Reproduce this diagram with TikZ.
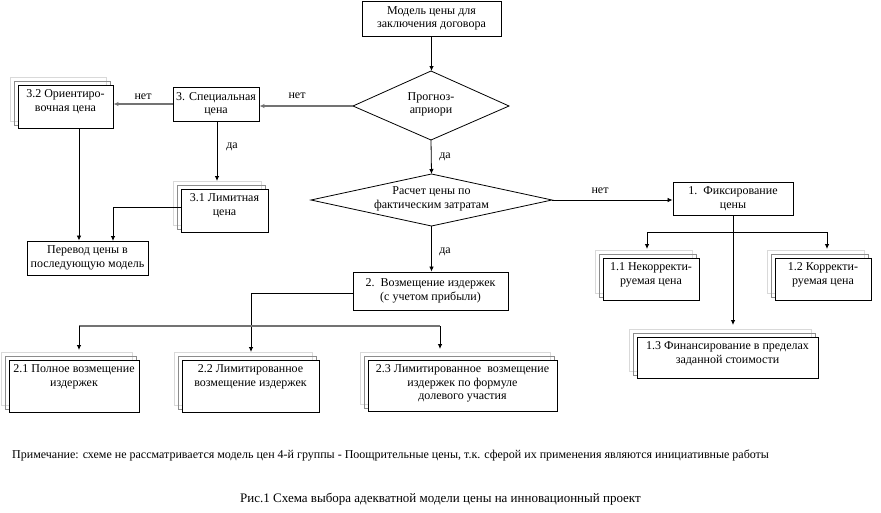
\documentclass[tikz,border=0pt]{standalone}
\usepackage{fontspec}
\setmainfont{Liberation Serif}
\usetikzlibrary{arrows.meta,calc}
\pgfdeclarelayer{background}
\pgfsetlayers{background,main}
\newcommand\fs{\fontsize{12}{13.5}\selectfont}
\newcommand\tbx[3]{\parbox[c][#2][t]{#1}{\centering\vspace*{3.5pt}\strut #3}}
\newcommand\shd[1]{%
  \draw[black!15, line width=0.7pt] ($(#1.north west)+(-7,-7)$) rectangle ($(#1.south east)+(-7,-7)$);
  \draw[black!45, line width=0.7pt] ($(#1.north west)+(-3,-3)$) rectangle ($(#1.south east)+(-3,-3)$);}
\tikzset{
  bx/.style={draw=black, fill=white, line width=0.9pt, inner sep=0pt, align=center, font=\fs},
  sbx/.style={draw=black, fill=white, line width=0.9pt, inner sep=0pt, font=\fs},
  txt/.style={inner sep=0pt, align=center, font=\fs},
  lbl/.style={inner sep=0pt, font=\fs},
  ln/.style={draw=black, line width=0.8pt},
  gln/.style={draw=black!55, line width=1.6pt},
  arr/.style={-{Latex[length=5pt,width=4.5pt]}}
}
\begin{document}
\begin{tikzpicture}[x=1pt,y=-1pt]
\begin{pgfonlayer}{background}
\fill[white] (0,0) rectangle (881,512);
\end{pgfonlayer}
\useasboundingbox (0,0) rectangle (881,512);

% boxes
\node[bx, minimum width=139pt, minimum height=35pt] (top) at (431.5,18.5) {Модель цены для\\заключения договора};
\node[bx, minimum width=86pt, minimum height=34pt] (b3) at (216,104) {3. Специальная\\цена};
\node[sbx] (b32) at (65.5,106.5) {\tbx{95pt}{43pt}{3.2 Ориентиро-\\вочная цена}};
\node[sbx] (b31) at (224.5,210.5) {\tbx{87pt}{43pt}{3.1 Лимитная\\цена}};
\node[bx, minimum width=121pt, minimum height=34pt] (pm) at (87.5,258) {Перевод цены в\\последующую модель};
\node[bx, minimum width=120pt, minimum height=33pt] (b1) at (733,198.5) {1.\ \ Фиксирование\\цены};
\node[sbx] (b11) at (651,279) {\tbx{96pt}{42pt}{1.1 Некорректи-\\руемая цена}};
\node[sbx] (b12) at (823,279) {\tbx{96pt}{42pt}{1.2 Корректи-\\руемая цена}};
\node[sbx] (b13) at (727.5,357.5) {\tbx{181pt}{41pt}{1.3 Финансирование в пределах\\заданной стоимости}};
\node[bx, minimum width=155pt, minimum height=38pt] (b2) at (430.5,291) {2.\ \ Возмещение издержек\\(с учетом прибыли)};
\node[sbx] (b21) at (74,386) {\tbx{130pt}{52pt}{2.1 Полное возмещение\\издержек}};
\node[sbx] (b22) at (250.5,386) {\tbx{137pt}{52pt}{2.2 Лимитированное\\возмещение издержек}};
\node[sbx] (b23) at (462.5,385.5) {\tbx{189pt}{51pt}{2.3 Лимитированное\ \ возмещение\\издержек по формуле\\долевого участия}};

\begin{pgfonlayer}{background}
\shd{b32}\shd{b31}\shd{b11}\shd{b12}\shd{b13}\shd{b21}\shd{b22}\shd{b23}
\end{pgfonlayer}

% diamonds
\node[txt] (d1) at (431,104.5) {Прогноз-\\априори};
\coordinate (d1n) at (431,71);
\coordinate (d1s) at (431,140);
\coordinate (d1w) at (353,106);
\coordinate (d1e) at (509,106);
\draw[ln] (d1n) -- (d1e) -- (d1s) -- (d1w) -- cycle;

\node[txt] (d2) at (431.5,199) {Расчет цены по\\фактическим затратам};
\coordinate (d2n) at (431.5,174);
\coordinate (d2s) at (431.5,226);
\coordinate (d2w) at (311,200);
\coordinate (d2e) at (552,200);
\draw[ln] (d2n) -- (d2e) -- (d2s) -- (d2w) -- cycle;

% connectors
\draw[ln,arr] (top.south) -- (top.south |- d1n);
\draw[gln,arr] (d1w) -- (d1w -| b3.east);
\node[lbl] (l1) at (297,96) {нет};
\draw[gln,arr] (b3.west) -- (b3.west -| b32.east);
\node[lbl] (l2) at (143,97) {нет};
\coordinate (t31) at (217,181);
\draw[ln,arr] (b3.south -| t31) -- (t31);
\node[lbl] (l3) at (232,147) {да};
\coordinate (c32) at (79,128);
\draw[ln,arr] (c32) -- (c32 |- pm.north);
\coordinate (w31) at (182,207);
\coordinate (pmr) at (113,241);
\draw[ln,arr] (w31) -| (pmr);

\draw[ln,arr] (d1s) -- (d2n);
\node[lbl] (l4) at (445,157) {да};
\draw[ln,arr] (d2e) -- (d2e -| b1.west);
\node[lbl] (l5) at (600,191) {нет};
\coordinate (t13) at (733,325);
\draw[ln,arr] (b1.south) -- (t13);
\coordinate (bus1L) at (647,232);
\coordinate (bus1R) at (827,232);
\draw[ln] (bus1L) -- (bus1R);
\draw[ln,arr] (bus1L) -- ++(0,17);
\draw[ln,arr] (bus1R) -- ++(0,17);

\draw[ln,arr] (d2s) -- (d2s |- b2.north);
\node[lbl] (l6) at (445,252) {да};
\coordinate (t22) at (251,352);
\draw[ln,arr] ([yshift=-2pt]b2.west) -| (t22);
\coordinate (bus2L) at (79,326);
\coordinate (bus2R) at (440,326);
\draw[gln] (bus2L) -- (bus2R);
\draw[ln,arr] (bus2L) -- ++(0,24);
\draw[ln,arr] (bus2R) -- ++(0,23);

% notes
\node[lbl, anchor=west] (note) at (12,455) {Примечание: схеме не рассматривается модель цен 4-й группы - Поощрительные цены, т.к. сферой их применения являются инициативные работы};
\node[lbl, anchor=west, font=\fontsize{13}{15}\selectfont] (cap) at (240,499) {Рис.1 Схема выбора адекватной модели цены на инновационный проект};
\end{tikzpicture}
\end{document}
